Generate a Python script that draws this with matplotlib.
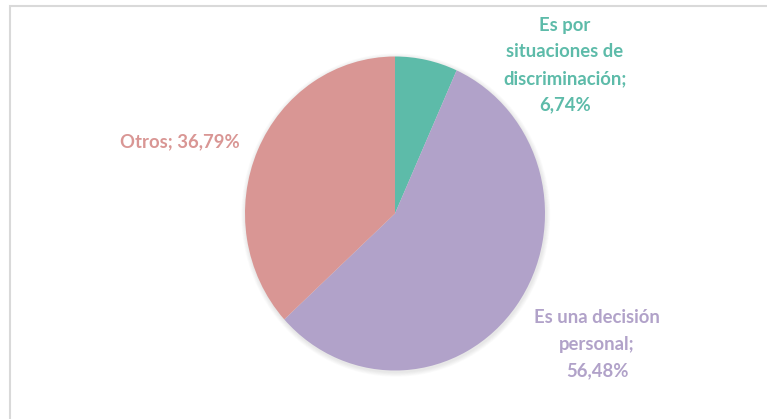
import matplotlib.pyplot as plt
from matplotlib.patches import Ellipse, Rectangle

labels = ["Es por\nsituaciones de\ndiscriminación;\n6,74%",
          "Es una decisión\npersonal;\n56,48%",
          "Otros; 36,79%"]
values = [6.74, 56.48, 36.79]
colors = ["#5DBBA9", "#B1A2C9", "#D99694"]

W, H = 767, 419
cx, cy = 395, 213.5      # pie centre in pixels
rx, ry = 150, 157        # pie radius in pixels

fig = plt.figure(figsize=(W / 100, H / 100), dpi=100)
ax = fig.add_axes([0, 0, 1, 1])
ax.set_axis_off()

# soft shadow behind the pie
for i in range(6):
    s = 1 + 0.005 * (i + 1)
    ax.add_patch(Ellipse((0.005, -0.01), 2 * s, 2 * s, color="#000000",
                         alpha=0.015, lw=0, zorder=0))

wedges, _ = ax.pie(values, colors=colors, startangle=90, counterclock=False,
                   radius=1, wedgeprops=dict(linewidth=0))
for w in wedges:
    w.set_zorder(2)

ax.set_aspect("auto")
ax.set_xlim((0 - cx) / rx, (W - cx) / rx)
ax.set_ylim((cy - H) / ry, cy / ry)


def px(x, y):
    return ((x - cx) / rx, (cy - y) / ry)


font = dict(family=["Lato", "DejaVu Sans"], fontweight="bold", fontsize=13.3,
            ha="center", va="center", linespacing=1.68)
ax.text(*px(565, 65), labels[0], color=colors[0], **font)
ax.text(*px(597, 344), labels[1], color=colors[1], **font)
ax.text(*px(180, 142), labels[2], color=colors[2], **font)

# chart border
fig.patches.append(Rectangle((9.5 / W, -0.1), 1.1, (H - 6) / H + 0.1,
                             transform=fig.transFigure, fill=False,
                             edgecolor="#D9D9D9", linewidth=1.5))

fig.savefig("out.png", dpi=100)
